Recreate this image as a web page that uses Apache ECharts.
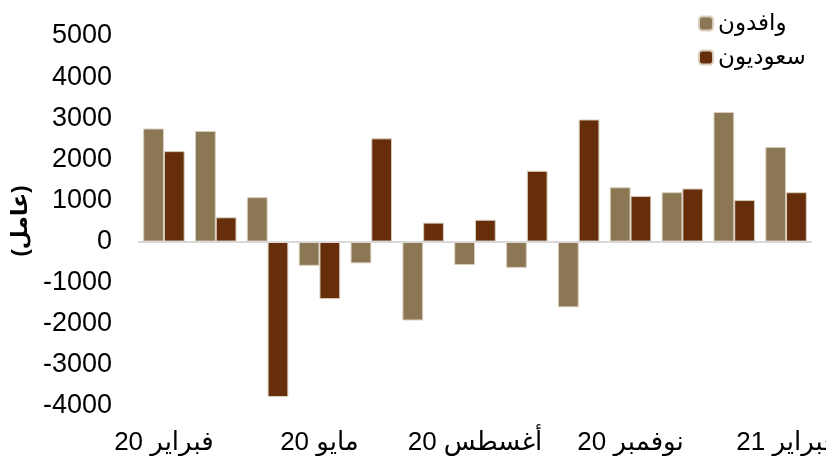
<!DOCTYPE html>
<html>
<head>
<meta charset="utf-8">
<script src="https://cdn.jsdelivr.net/npm/echarts@6/dist/echarts.min.js"></script>
<style>
  html, body { margin: 0; padding: 0; background: #fff; }
  #main { width: 826px; height: 456px; }
</style>
</head>
<body>
<div id="main"></div>
<script>
var months = ['20 فبراير', '20 مارس', '20 أبريل', '20 مايو', '20 يونيو', '20 يوليو', '20 أغسطس',
  '20 سبتمبر', '20 أكتوبر', '20 نوفمبر', '20 ديسمبر', '21 يناير', '21 فبراير'];
var wafidoon = [2750, 2690, 1080, -590, -530, -1920, -570, -640, -1600, 1320, 1200, 3150, 2300];
var saudis = [2200, 590, -3780, -1400, 2510, 460, 530, 1720, 2970, 1110, 1290, 1010, 1200];
var seriesNames = ['وافدون', 'سعوديون'];

var font = 'Liberation Sans, Arial, DejaVu Sans, sans-serif';
var myChart = echarts.init(document.getElementById('main'));

var option = {
  backgroundColor: '#fff',
  animation: false,
  textStyle: { fontFamily: font },
  legend: {
    orient: 'vertical',
    left: 693,
    top: 7,
    align: 'left',
    itemWidth: 14,
    itemHeight: 14,
    itemGap: 11,
    data: seriesNames,
    textStyle: { fontFamily: font, fontSize: 23, color: '#000' }
  },
  grid: { left: 138, right: 14, top: 36, bottom: 50, containLabel: false, outerBoundsMode: 'none' },
  xAxis: {
    type: 'category',
    data: months,
    axisLine: { show: false, onZero: false },
    axisTick: { show: false },
    axisLabel: {
      interval: 2,
      margin: 24,
      fontSize: 26,
      color: '#000',
      fontFamily: font
    }
  },
  yAxis: {
    type: 'value',
    min: -4000,
    max: 5000,
    interval: 1000,
    name: '(عامل)',
    nameLocation: 'middle',
    nameRotate: 90,
    nameGap: 106,
    nameTextStyle: { fontSize: 22, fontWeight: 'bold', color: '#000', fontFamily: font },
    axisLine: { show: false },
    axisTick: { show: false },
    splitLine: { show: false },
    axisLabel: {
      fontSize: 27, color: '#000', margin: 26, fontFamily: font,
      formatter: function (v) { return String(v); }
    }
  },
  series: [
    {
      name: seriesNames[0],
      type: 'bar',
      data: wafidoon,
      barGap: '0%',
      barCategoryGap: '20%',
      itemStyle: { color: '#8c7754', borderColor: '#d8cdbd', borderWidth: 1 },
      markLine: {
        silent: true,
        symbol: 'none',
        label: { show: false },
        lineStyle: { color: '#d9d9d9', width: 2, type: 'solid' },
        data: [{ yAxis: 0 }]
      },
      z: 3
    },
    {
      name: seriesNames[1],
      type: 'bar',
      data: saudis,
      itemStyle: { color: '#672e0b', borderColor: '#d8cdbd', borderWidth: 1 },
      z: 3
    }
  ]
};
myChart.setOption(option);
</script>
</body>
</html>
